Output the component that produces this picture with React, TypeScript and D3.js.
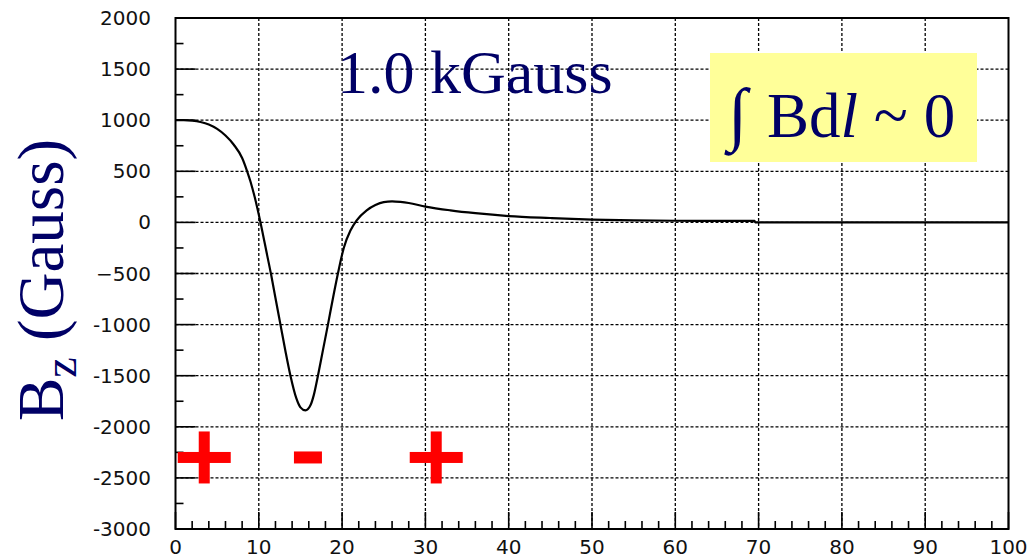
import React from 'react';
import * as d3 from 'd3';

// field profile (position, Bz in Gauss)
const positions = [0, 1, 2, 3, 4, 5, 6, 7, 8, 8.6, 9, 9.5, 10.2, 11, 11.5, 12, 12.6, 13.2, 13.8, 14.5, 15, 15.6, 16.2, 16.6, 17.1, 17.7, 18.3, 19, 19.6, 20.2, 21, 21.75, 22.95, 24, 25, 26, 27, 28, 30, 33, 36, 40, 45, 50, 55, 60, 65, 69.5, 69.6, 100];
const bzValues = [1000, 1000, 995, 982, 958, 915, 850, 760, 630, 500, 400, 250, 0, -320, -520, -740, -1000, -1260, -1500, -1720, -1810, -1840, -1790, -1690, -1500, -1250, -1000, -700, -460, -250, -80, 20, 118, 170, 198, 205, 200, 190, 155, 118, 90, 62, 43, 28, 20, 16, 15, 14, 0, 0];

const yTicks = [2000, 1500, 1000, 500, 0, -500, -1000, -1500, -2000, -2500, -3000];
const yTickLabels = ['2000', '1500', '1000', '500', '0', '\u2212500', '-1000', '-1500', '-2000', '-2500', '-3000'];
const xTicks = [0, 10, 20, 30, 40, 50, 60, 70, 80, 90, 100];

// sign markers under the curve
const signX = [3.45, 15.9, 31.3];
const signY = [-2300, -2300, -2300];
const signKind = ['+', '-', '+'];

const W = 1030;
const H = 558;
const navy = '#000066';

const App: React.FC = () => {
  const x = d3.scaleLinear().domain([0, 100]).range([175.5, 1008.5]);
  const y = d3.scaleLinear().domain([-3000, 2000]).range([529, 18]);

  const line = d3
    .line<number>()
    .x((_d, i) => x(positions[i]))
    .y(d => y(d))
    .curve(d3.curveMonotoneX);

  const minorX = d3.range(0, 101, 2).filter(v => v % 10 !== 0);
  const minorY = d3.range(-3000, 2001, 250).filter(v => v % 500 !== 0);
  const [x0, x1] = x.range();
  const [yb, yt] = y.range();

  return (
    <svg
      width={W}
      height={H}
      style={{ position: 'absolute', left: 0, top: 0, background: '#fff' }}
    >
      {/* grid */}
      <g stroke="#000" strokeWidth={1.3} strokeDasharray="3,2">
        {xTicks.slice(1, -1).map(v => (
          <line key={'gx' + v} x1={x(v)} x2={x(v)} y1={yt} y2={yb} />
        ))}
        {yTicks.slice(1, -1).map(v => (
          <line key={'gy' + v} x1={x0} x2={x1} y1={y(v)} y2={y(v)} />
        ))}
      </g>

      {/* ticks */}
      <g stroke="#000" strokeWidth={1.6}>
        {yTicks.map(v => (
          <line key={'ty' + v} x1={x0} x2={x0 + 20} y1={y(v)} y2={y(v)} />
        ))}
        {minorY.map(v => (
          <line key={'my' + v} x1={x0} x2={x0 + 8} y1={y(v)} y2={y(v)} />
        ))}
        {xTicks.map(v => (
          <line key={'tx' + v} x1={x(v)} x2={x(v)} y1={yb} y2={yb - 17} />
        ))}
        {minorX.map(v => (
          <line key={'mx' + v} x1={x(v)} x2={x(v)} y1={yb} y2={yb - 8} />
        ))}
      </g>

      {/* frame */}
      <rect x={x0} y={yt} width={x1 - x0} height={yb - yt} fill="none" stroke="#000" strokeWidth={2} />

      {/* tick labels */}
      <g fontFamily="DejaVu Sans, sans-serif" fontSize={20} fill="#111">
        {yTicks.map((v, i) => (
          <text key={'ly' + v} x={151} y={y(v)} textAnchor="end" dominantBaseline="central">
            {yTickLabels[i]}
          </text>
        ))}
        {xTicks.map(v => (
          <text key={'lx' + v} x={x(v)} y={554} textAnchor="middle">
            {v}
          </text>
        ))}
      </g>

      {/* field curve */}
      <path d={line(bzValues) || ''} fill="none" stroke="#000" strokeWidth={2.2} />

      {/* sign markers */}
      <g fill="#ff0000">
        {signKind.map((k, i) => {
          const cx = x(signX[i]);
          const cy = y(signY[i]);
          return k === '+' ? (
            <g key={'s' + i}>
              <rect x={cx - 26.5} y={cy - 5.5} width={53} height={11} />
              <rect x={cx - 5.5} y={cy - 26} width={11} height={52} />
            </g>
          ) : (
            <rect key={'s' + i} x={cx - 14} y={cy - 6} width={28} height={12} />
          );
        })}
      </g>

      {/* title */}
      <text x={337} y={93} fontFamily="Liberation Serif, Times New Roman, serif" fontSize={62} fill={navy}>
        1.0 kGauss
      </text>

      {/* integral box */}
      <rect x={710} y={53} width={267} height={109} fill="#ffff99" />
      <text x={728} y={137} fontFamily="Liberation Serif, DejaVu Serif, serif" fontSize={70} fill={navy}>
        {'\u222B'}
      </text>
      <text x={767} y={137} fontFamily="Liberation Serif, Times New Roman, serif" fontSize={63} fill={navy}>
        Bd<tspan fontStyle="italic">l</tspan> ~ 0
      </text>

      {/* y axis title */}
      <text
        transform="translate(63,280) rotate(-90)"
        textAnchor="middle"
        fontFamily="Liberation Serif, Times New Roman, serif"
        fontSize={65}
        fill={navy}
      >
        B<tspan fontSize={46} dy={13}>z</tspan>
        <tspan dy={-13}> (Gauss)</tspan>
      </text>
    </svg>
  );
};

export default App;
